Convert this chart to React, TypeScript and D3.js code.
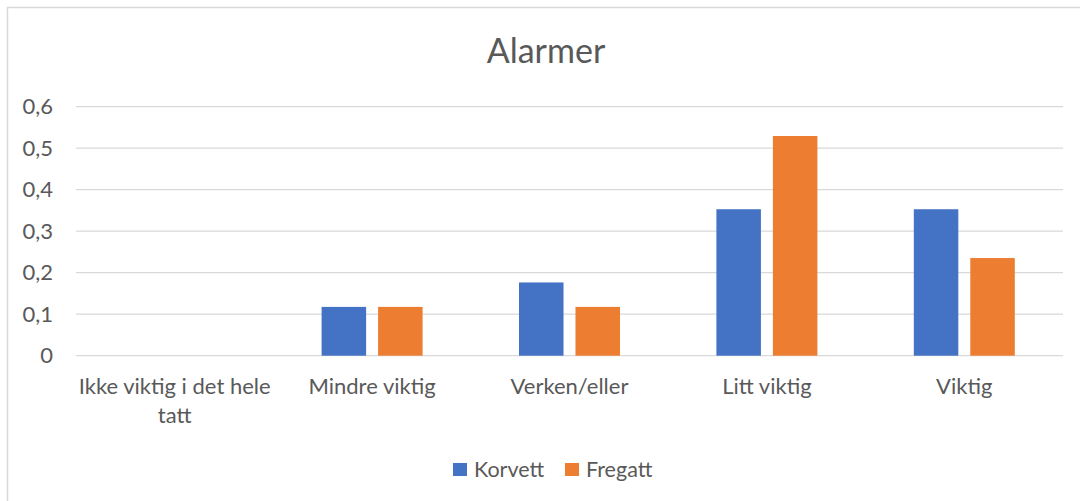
import React from "react";
import * as d3 from "d3";

const categories = ["Ikke viktig i det hele tatt", "Mindre viktig", "Verken/eller", "Litt viktig", "Viktig"];
const seriesNames = ["Korvett", "Fregatt"];
const korvett = [0, 0.1176, 0.1765, 0.3529, 0.3529];
const fregatt = [0, 0.1176, 0.1176, 0.5294, 0.2353];
const yTicks = [0, 0.1, 0.2, 0.3, 0.4, 0.5, 0.6];
const colors = ["#4472C4", "#ED7D31"];
const title = "Alarmer";

const W = 1080;
const H = 501;
const FONT = "Lato, 'Open Sans', sans-serif";
const TEXT = "#595959";

function wrap(text: string, maxW: number, font: string): string[] {
  const c = document.createElement("canvas").getContext("2d")!;
  c.font = font;
  const words = text.split(" ");
  const lines: string[] = [];
  let cur = "";
  for (const w of words) {
    const t = cur ? cur + " " + w : w;
    if (c.measureText(t).width > maxW && cur) {
      lines.push(cur);
      cur = w;
    } else cur = t;
  }
  if (cur) lines.push(cur);
  return lines;
}

export default function App() {
  const x0 = d3.scaleBand<string>().domain(categories).range([76, 1063]).paddingInner(0).paddingOuter(0);
  const bw = x0.bandwidth();
  const x1 = d3
    .scaleBand<string>()
    .domain(seriesNames)
    .range([bw / 2 - 50.5, bw / 2 + 50.5])
    .paddingInner(0.212)
    .paddingOuter(0);
  const y = d3.scaleLinear().domain([0, 0.6]).range([355.7, 106.7]);
  const data = [korvett, fregatt];
  const fmt = (v: number) => d3.format(".1~f")(v).replace(".", ",");
  const labelFont = `22px ${FONT}`;

  return (
    <svg width={W} height={H} style={{ position: "absolute", left: 0, top: 0 }}>
      <rect x={0} y={0} width={W} height={H} fill="#fff" />
      <rect x={7.5} y={7.5} width={W + 20} height={H + 20} fill="#fff" stroke="#d9d9d9" strokeWidth={1.5} />
      <text x={546} y={63} textAnchor="middle" fontFamily={FONT} fontSize={34} fill={TEXT}>
        {title}
      </text>
      {yTicks.map((t) => (
        <g key={t}>
          <line x1={76} x2={1063} y1={y(t)} y2={y(t)} stroke="#d9d9d9" strokeWidth={1.3} />
          <text x={53} y={y(t) + 7.5} textAnchor="end" fontFamily={FONT} fontSize={22} fill={TEXT}>
            {fmt(t)}
          </text>
        </g>
      ))}
      {categories.map((c, i) => (
        <g key={c} transform={`translate(${x0(c)},0)`}>
          {data.map((s, j) =>
            s[i] > 0 ? (
              <rect
                key={j}
                x={x1(seriesNames[j])}
                y={y(s[i])}
                width={x1.bandwidth()}
                height={y(0) - y(s[i])}
                fill={colors[j]}
              />
            ) : null
          )}
          {wrap(c, bw - 2, labelFont).map((l, k) => (
            <text key={k} x={bw / 2} y={394 + k * 28.5} textAnchor="middle" fontFamily={FONT} fontSize={22} fill={TEXT}>
              {l}
            </text>
          ))}
        </g>
      ))}
      {seriesNames.map((n, j) => {
        const lx = [453, 565][j];
        return (
          <g key={n}>
            <rect x={lx} y={463} width={14} height={13} fill={colors[j]} />
            <text x={lx + 21} y={476.5} fontFamily={FONT} fontSize={21.5} fill={TEXT}>
              {n}
            </text>
          </g>
        );
      })}
    </svg>
  );
}
